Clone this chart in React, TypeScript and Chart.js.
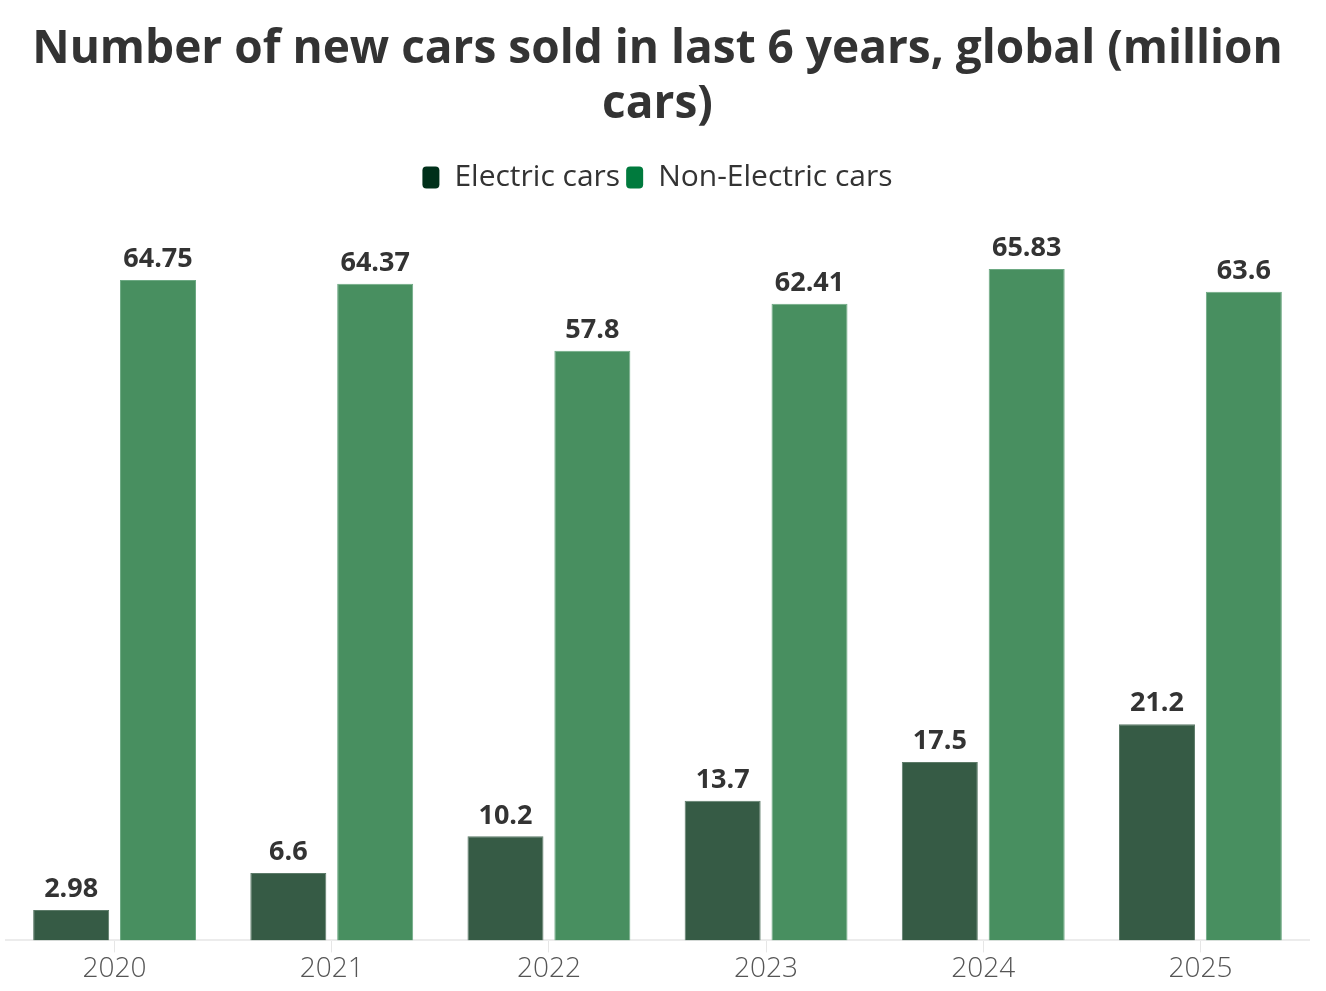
import React, { useEffect, useRef } from 'react';
import Chart from 'chart.js/auto';

const years = ['2020', '2021', '2022', '2023', '2024', '2025'];
const electric = [2.98, 6.6, 10.2, 13.7, 17.5, 21.2];
const nonElectric = [64.75, 64.37, 57.8, 62.41, 65.83, 63.6];

const FONT = '"Open Sans", "Noto Sans", sans-serif';

const App = () => {
  const chartRef = useRef<HTMLCanvasElement>(null);
  const chartInstance = useRef<Chart | null>(null);

  useEffect(() => {
    if (chartInstance.current) {
      chartInstance.current.destroy();
    }
    const ctx = chartRef.current?.getContext('2d');
    if (ctx) {
      chartInstance.current = new Chart(ctx, {
        type: 'bar',
        data: {
          labels: years,
          datasets: [
            {
              label: 'Electric cars',
              data: electric,
              backgroundColor: '#365b45',
              borderColor: '#5d7b69',
              borderWidth: 1,
            },
            {
              label: 'Non-Electric cars',
              data: nonElectric,
              backgroundColor: '#488f60',
              borderColor: '#6da983',
              borderWidth: 1,
            },
          ],
        },
        options: {
          animation: false,
          responsive: true,
          maintainAspectRatio: false,
          categoryPercentage: 0.8,
          barPercentage: 0.875,
          layout: {
            padding: { top: 22, left: 6, right: 17, bottom: 5 },
          },
          scales: {
            x: {
              grid: {
                display: true,
                drawOnChartArea: false,
                drawTicks: true,
                tickLength: 12,
                offset: false,
                color: '#e6e6e6',
                lineWidth: 1,
              },
              border: { display: true, color: '#ececec', width: 2 },
              ticks: {
                color: '#555',
                font: { family: FONT, size: 28, weight: '300' },
                padding: 0,
              },
            },
            y: {
              display: false,
              beginAtZero: true,
              max: 70,
            },
          },
          plugins: {
            title: {
              display: true,
              text: ['Number of new cars sold in last 6 years, global (million', 'cars)'],
              color: '#333',
              font: { family: FONT, size: 46, weight: 'bold', lineHeight: 1.2 },
              padding: { top: 0, bottom: 24 },
            },
            legend: {
              display: true,
              labels: {
                color: '#333',
                font: { family: FONT, size: 30 },
                boxWidth: 17,
                boxHeight: 22,
                padding: 6,
                useBorderRadius: true,
                borderRadius: 4,
                generateLabels: (chart) => {
                  const cols = ['#00301a', '#007a3d'];
                  return chart.data.datasets.map((ds, i) => ({
                    text: ds.label as string,
                    fillStyle: cols[i],
                    strokeStyle: cols[i],
                    lineWidth: 0,
                    fontColor: '#333',
                    hidden: !chart.isDatasetVisible(i),
                    datasetIndex: i,
                    borderRadius: 4,
                  }));
                },
              },
            },
            tooltip: { enabled: false },
          },
        },
        plugins: [
          {
            id: 'legendGap',
            beforeInit: (chart) => {
              const legend = chart.legend as any;
              const fit = legend.fit;
              legend.fit = function () {
                fit.call(this);
                this.height += 24;
              };
            },
          },
          {
            id: 'barLabels',
            afterDatasetsDraw: (chart) => {
              const { ctx } = chart;
              ctx.save();
              ctx.fillStyle = '#333';
              ctx.font = `bold 27px ${FONT}`;
              ctx.textAlign = 'center';
              ctx.textBaseline = 'bottom';
              chart.data.datasets.forEach((ds, di) => {
                const meta = chart.getDatasetMeta(di);
                meta.data.forEach((bar, i) => {
                  const v = ds.data[i] as number;
                  ctx.fillText(String(v), bar.x, bar.y - 7);
                });
              });
              ctx.restore();
            },
          },
        ],
      });
    }
    return () => {
      if (chartInstance.current) {
        chartInstance.current.destroy();
        chartInstance.current = null;
      }
    };
  }, []);

  return (
    <div style={{ position: 'fixed', left: 0, top: 0, width: 1326, height: 991, background: '#fff' }}>
      <canvas ref={chartRef} />
    </div>
  );
};

export default App;
